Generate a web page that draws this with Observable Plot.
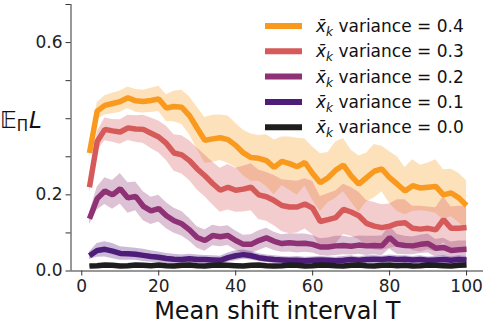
<!DOCTYPE html>
<html>
<head>
<meta charset="utf-8">
<script src="https://cdn.jsdelivr.net/npm/d3@7"></script>
<script src="https://cdn.jsdelivr.net/npm/@observablehq/plot@0.6"></script>
<style>
  html, body { margin: 0; padding: 0; background: #fff; }
  #chart svg { display: block; }
</style>
</head>
<body>
<div id="chart"></div>
<script>
// Mean shift interval T
const T = [2,4,6,8,10,12,14,16,18,20,22,24,26,28,30,32,34,36,38,40,42,44,46,48,50,
           52,54,56,58,60,62,64,66,68,70,72,74,76,78,80,82,84,86,88,90,92,94,96,98,100];

// Expected loss per variance setting (mean) and band half-width
const mean04 = [0.31,0.42,0.435,0.44,0.445,0.455,0.447,0.445,0.448,0.452,0.428,0.432,0.43,0.408,0.375,0.343,0.347,0.35,0.345,0.33,0.31,0.298,0.296,0.29,0.272,
                0.288,0.282,0.274,0.285,0.256,0.232,0.245,0.265,0.278,0.25,0.228,0.245,0.262,0.268,0.245,0.228,0.21,0.224,0.218,0.22,0.222,0.2,0.205,0.192,0.172];
const sd04   = [0.012,0.022,0.025,0.027,0.028,0.028,0.03,0.03,0.032,0.033,0.035,0.04,0.045,0.05,0.055,0.06,0.062,0.06,0.062,0.058,0.06,0.062,0.06,0.068,0.072,
                0.064,0.07,0.075,0.062,0.07,0.076,0.066,0.074,0.07,0.068,0.074,0.064,0.07,0.06,0.068,0.072,0.062,0.068,0.06,0.064,0.07,0.066,0.062,0.065,0.065];

const mean03 = [0.22,0.34,0.372,0.368,0.365,0.376,0.373,0.372,0.362,0.352,0.335,0.31,0.305,0.29,0.268,0.25,0.23,0.212,0.22,0.212,0.215,0.22,0.2,0.195,0.185,
                0.172,0.168,0.168,0.176,0.165,0.13,0.135,0.14,0.162,0.155,0.145,0.125,0.118,0.114,0.118,0.125,0.127,0.112,0.11,0.112,0.108,0.135,0.112,0.112,0.114];
const sd03   = [0.015,0.025,0.03,0.03,0.032,0.033,0.035,0.037,0.04,0.042,0.045,0.048,0.05,0.052,0.055,0.055,0.056,0.058,0.06,0.058,0.06,0.062,0.065,0.064,0.066,
                0.068,0.07,0.068,0.066,0.07,0.066,0.068,0.07,0.066,0.064,0.062,0.06,0.062,0.06,0.058,0.062,0.06,0.058,0.06,0.056,0.058,0.06,0.056,0.058,0.056];

const mean02 = [0.137,0.19,0.21,0.2,0.216,0.192,0.196,0.17,0.158,0.164,0.145,0.132,0.124,0.108,0.088,0.08,0.093,0.09,0.093,0.08,0.07,0.07,0.08,0.087,0.078,
                0.072,0.074,0.072,0.073,0.07,0.063,0.063,0.066,0.067,0.065,0.068,0.066,0.067,0.066,0.088,0.07,0.067,0.066,0.07,0.072,0.06,0.062,0.054,0.056,0.057];
const sd02   = [0.015,0.03,0.035,0.038,0.04,0.04,0.038,0.038,0.036,0.035,0.034,0.033,0.032,0.03,0.028,0.028,0.027,0.026,0.026,0.025,0.024,0.025,0.026,0.025,0.024,
                0.023,0.024,0.025,0.024,0.023,0.022,0.024,0.025,0.024,0.023,0.024,0.025,0.024,0.026,0.03,0.026,0.024,0.023,0.024,0.025,0.023,0.024,0.022,0.023,0.022];

const mean01 = [0.04,0.054,0.057,0.052,0.046,0.045,0.044,0.041,0.038,0.036,0.033,0.031,0.03,0.032,0.03,0.03,0.029,0.028,0.035,0.04,0.043,0.04,0.035,0.032,0.03,
                0.029,0.028,0.028,0.027,0.028,0.029,0.028,0.027,0.028,0.03,0.028,0.03,0.031,0.03,0.032,0.03,0.031,0.029,0.03,0.028,0.029,0.03,0.028,0.03,0.029];
const sd01   = [0.01,0.018,0.02,0.02,0.018,0.017,0.016,0.016,0.015,0.014,0.013,0.013,0.012,0.012,0.012,0.011,0.011,0.011,0.012,0.013,0.012,0.011,0.01,0.01,0.01,
                0.009,0.009,0.01,0.009,0.009,0.01,0.009,0.009,0.01,0.01,0.009,0.01,0.01,0.009,0.01,0.01,0.009,0.009,0.01,0.009,0.009,0.01,0.009,0.01,0.009];

const mean00 = [0.013,0.014,0.016,0.015,0.013,0.014,0.016,0.015,0.014,0.016,0.014,0.013,0.015,0.016,0.014,0.013,0.015,0.016,0.015,0.014,0.013,0.015,0.016,0.014,0.013,
                0.014,0.016,0.015,0.013,0.014,0.016,0.015,0.014,0.013,0.015,0.016,0.014,0.013,0.015,0.016,0.014,0.015,0.013,0.014,0.016,0.015,0.014,0.013,0.015,0.016];
const sd00   = T.map(() => 0.004);

const varianceLabels = ["0.4","0.3","0.2","0.1","0.0"];
const seriesColors  = ["#f99a1e","#d65a5a","#8e3175","#4e1c79","#1e1e1e"];
const seriesMeans   = [mean04, mean03, mean02, mean01, mean00];
const seriesSds     = [sd04, sd03, sd02, sd01, sd00];

// Axis ticks
const xTicks = [0,20,40,60,80,100];
const yTicks = [0,0.1,0.2,0.3,0.4,0.5,0.6,0.7];
const yTickLabels = ["0.0","","0.2","","","","0.6",""];
const xDomain = [-2.8, 104.4];
const yDomain = [0, 0.7];

// Long table: one row per (series, T)
const rows = [];
varianceLabels.forEach((v, s) => {
  T.forEach((t, i) => {
    const m = seriesMeans[s][i], sd = seriesSds[s][i];
    rows.push({variance: v, T: t, mean: m, lo: m - sd, hi: m + sd});
  });
});

const colorScale = {domain: varianceLabels, range: seriesColors};

const chart = Plot.plot({
  width: 483,
  height: 324,
  marginTop: 4,
  marginRight: 0,
  marginBottom: 53.5,
  marginLeft: 70.5,
  style: {fontFamily: "DejaVu Sans", fontSize: "17px", color: "#222", background: "#fff"},
  x: {domain: xDomain, range: [70.5, 483]},
  y: {domain: yDomain, range: [270.5, 4]},
  color: colorScale,
  marks: [
    Plot.areaY(rows, {x: "T", y1: "lo", y2: "hi", z: "variance", fill: "variance", fillOpacity: 0.3}),
    Plot.line(rows, {x: "T", y: "mean", z: "variance", stroke: "variance", strokeWidth: 5.5,
                     strokeLinejoin: "miter", strokeLinecap: "butt"}),
    Plot.ruleX([xDomain[0]], {stroke: "#333", strokeWidth: 1}),
    Plot.ruleY([yDomain[0]], {stroke: "#333", strokeWidth: 1}),
    Plot.axisX({ticks: xTicks, tickSize: 5, tickPadding: 4, label: null, stroke: "#333"}),
    Plot.axisY({ticks: yTicks, tickSize: 5, tickPadding: 3.5, label: null, stroke: "#333",
                tickFormat: d => yTickLabels[Math.round(d * 10)]}),
    Plot.text(["Mean shift interval T"], {frameAnchor: "bottom", dy: 48, fontSize: 24, fill: "#111"})
  ]
});

document.getElementById("chart").appendChild(chart);

const svg = d3.select(chart);

// y-axis label: E_Pi L
const ylab = svg.append("text")
  .attr("x", 0).attr("y", 128)
  .attr("text-anchor", "start")
  .attr("font-family", "DejaVu Sans")
  .attr("font-size", 23)
  .attr("fill", "#111");
ylab.append("tspan").text("\u{1D53C}");
ylab.append("tspan").attr("font-size", 15).attr("dy", 3).text("\u03A0");
ylab.append("tspan").attr("font-style", "italic").attr("dy", -3).attr("dx", 1).text("L");

// legend
const legend = svg.append("g")
  .attr("text-anchor", "start")
  .attr("font-family", "DejaVu Sans")
  .attr("font-size", 17);
varianceLabels.forEach((v, i) => {
  const cy = 26 + 25.3 * i;
  legend.append("line")
    .attr("x1", 265).attr("x2", 302).attr("y1", cy).attr("y2", cy)
    .attr("stroke", seriesColors[i]).attr("stroke-width", 6);
  const t = legend.append("text").attr("x", 316).attr("y", cy + 6).attr("fill", "#111");
  t.append("tspan").attr("font-style", "italic").text("x\u0304");
  t.append("tspan").attr("font-style", "italic").attr("font-size", 12).attr("dy", 4).text("k");
  t.append("tspan").attr("dy", -4).text(" variance = " + v);
});
</script>
</body>
</html>
